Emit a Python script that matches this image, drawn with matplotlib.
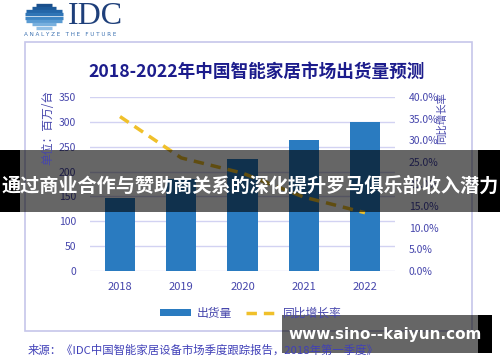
import numpy as np
import matplotlib
matplotlib.use("Agg")
import matplotlib.pyplot as plt
from matplotlib.patches import Rectangle, Patch
from matplotlib.lines import Line2D

plt.rcParams['font.family'] = ['Noto Sans CJK SC', 'DejaVu Sans']

# ---------------------------------------------------------------------
# Data
# ---------------------------------------------------------------------
years = ["2018", "2019", "2020", "2021", "2022"]
shipments = [147, 185, 226, 264, 300]            # 百万台
growth = [35.5, 26.0, 22.5, 17.0, 13.4]          # 同比增长率 %

left_ticks = [0, 50, 100, 150, 200, 250, 300, 350]
right_ticks = [0, 5, 10, 15, 20, 25, 30, 35, 40]

title = "2018-2022年中国智能家居市场出货量预测"
left_label = "单位：百万/台"
right_label = "同比增长率"
legend_labels = ["出货量", "同比增长率"]
source = "来源：《IDC中国智能家居设备市场季度跟踪报告，2018年第一季度》"
banner = "通过商业合作与赞助商关系的深化提升罗马俱乐部收入潜力"
watermark = "www.sino--kaiyun.com"

BAR = "#2a7bc0"
LINE = "#f0c02a"
GRID = "#d2d2f2"
TXT = "#4646ac"
TITLE = "#1c1c8c"

W, H = 500, 362
fig = plt.figure(figsize=(W / 100, H / 100), dpi=100)
fig.patch.set_facecolor("white")

# ---------------------------------------------------------------------
# Main chart
# ---------------------------------------------------------------------
ax = fig.add_axes([90 / W, 1 - 271 / H, 305 / W, 174 / H])
x = np.arange(len(years))
ax.bar(x, shipments, width=0.49, color=BAR, zorder=2)
ax.set_xlim(-0.49, len(years) - 0.51)
ax.set_ylim(0, 350)
ax.set_yticks(left_ticks)
ax.set_xticks(x)
ax.set_xticklabels(years)
ax.grid(axis="y", color=GRID, lw=1, zorder=0)
ax.tick_params(axis="both", length=0, colors=TXT, labelsize=7.5)
ax.tick_params(axis="y", pad=10)
ax.tick_params(axis="x", pad=8, labelsize=8)
for s in ax.spines.values():
    s.set_visible(False)

ax2 = ax.twinx()
ax2.plot(x, growth, color=LINE, lw=2.5, linestyle=(0, (3, 2)), zorder=3)
ax2.set_ylim(0, 40)
ax2.set_yticks(right_ticks)
ax2.set_yticklabels([f"{v:.1f}%" for v in right_ticks])
ax2.tick_params(axis="y", length=0, colors=TXT, labelsize=7.5, pad=10)
for s in ax2.spines.values():
    s.set_visible(False)

fig.text(257 / W, 1 - 72 / H, title, ha="center", va="center",
         fontsize=12.7, fontweight="bold", color=TITLE)

handles = [Patch(facecolor=BAR, edgecolor="none"),
           Line2D([0], [0], color=LINE, lw=2.5, linestyle=(0, (3, 2)))]
fig.legend(handles, legend_labels, loc="center", bbox_to_anchor=(251 / W, 1 - 313 / H),
           ncol=2, frameon=False, fontsize=8.5, labelcolor=TXT, handlelength=2.6,
           handleheight=0.5, columnspacing=1.2, handletextpad=0.5)

# ---------------------------------------------------------------------
# Page decorations (pixel coordinates)
# ---------------------------------------------------------------------
ov = fig.add_axes([0, 0, 1, 1], facecolor="none")
ov.set_xlim(0, W)
ov.set_ylim(H, 0)
ov.axis("off")

# axis titles, top-aligned like the reference
ov.text(48, 90, left_label, rotation=90, fontsize=8.5, color=TXT, ha="center", va="top")
ov.text(442, 92, right_label, rotation=90, fontsize=7.5, color=TXT, ha="center", va="top")

# frame
ov.add_patch(Rectangle((25, 42), 447, 289, fill=False, ec="#c6c6ea", lw=1.2))

# IDC logo
cx, cy, r = 44, 16, 13
stripe_cols = ["#1a4f8c", "#1d5a9a", "#2466a8", "#2f75b6", "#3f86c4", "#5a9bd2", "#78b0de", "#92c0e6"]
for i, yy in enumerate(np.linspace(cy - r + 1.5, cy + r - 1.5, 8)):
    half = np.sqrt(max(r ** 2 - (yy - cy) ** 2, 0))
    ext = 6 if i in (2, 3, 4, 5) else 2
    ov.plot([cx - half - ext, cx + half + ext], [yy, yy], color=stripe_cols[i],
            lw=2.4, solid_capstyle="butt")
ov.text(68, 17, "IDC", fontsize=23, family="Liberation Serif", color="#1e3f7a",
        ha="left", va="center")
ov.text(24, 34, "A N A L Y Z E   T H E   F U T U R E", fontsize=4.1,
        family="DejaVu Sans", color="#3a70b0", ha="left", va="center")

# source
ov.text(28, 350, source, fontsize=8.2, color="#4040b8", ha="left", va="center")

# banner overlay
ov.add_patch(Rectangle((0, 150), W, 62, color="black", alpha=0.6, lw=0))
ov.add_patch(Rectangle((0, 150), 20, 62, color="black", lw=0))
ov.add_patch(Rectangle((478, 150), 22, 62, color="black", lw=0))
ov.text(250, 186, banner, fontsize=13.8, fontweight="bold", color="white",
        ha="center", va="center")

# watermark
ov.add_patch(Rectangle((282, 315), 196, 38, color="black", alpha=0.6, lw=0))
ov.add_patch(Rectangle((478, 315), 14, 38, color="black", lw=0))
ov.text(385, 335, watermark, fontsize=11, fontweight="bold", color="white",
        family="DejaVu Sans", ha="center", va="center")

fig.savefig("out.png", dpi=100)
